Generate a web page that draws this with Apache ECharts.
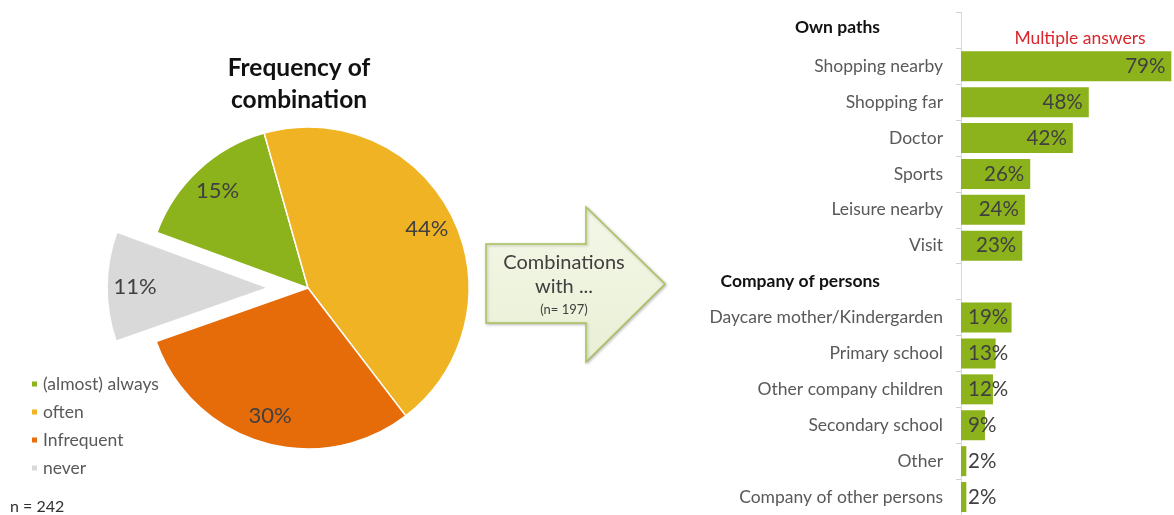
<!DOCTYPE html>
<html>
<head>
<meta charset="utf-8">
<script src="https://cdn.jsdelivr.net/npm/echarts@6/dist/echarts.min.js"></script>
<style>
html,body{margin:0;padding:0;background:#fff;}
#c{width:1174px;height:515px;}
</style>
</head>
<body>
<div id="c"></div>
<script>
// ---- data ----
const pieNames = ['(almost) always', 'often', 'Infrequent', 'never'];
const pieValues = [15, 44, 30, 11];
const pieColors = ['#8CB31B', '#F0B323', '#E66C0A', '#D9D9D9'];

const header1 = 'Own paths';
const ownCats = ['Shopping nearby', 'Shopping far', 'Doctor', 'Sports', 'Leisure nearby', 'Visit'];
const ownVals = [79, 48, 42, 26, 24, 23];
const header2 = 'Company of persons';
const compCats = ['Daycare mother/Kindergarden', 'Primary school', 'Other company children', 'Secondary school', 'Other', 'Company of other persons'];
const compVals = [19, 13, 12, 9, 2, 2];

// ---- build ----
const FONT = 'Lato, "Noto Sans", sans-serif';
const categories = [header1].concat(ownCats, [header2], compCats);
const barVals = [null].concat(ownVals, [null], compVals);
const barData = barVals.map(v => v === null ? null : {
  value: v,
  label: { position: v >= 20 ? 'insideRight' : 'insideLeft', distance: v >= 20 ? 6 : 7 }
});

const pieData = pieNames.map((n, i) => ({
  name: n, value: pieValues[i], selected: n === 'never',
  itemStyle: { color: pieColors[i] }
}));
const pieLabelData = pieNames.map((n, i) => ({
  name: n, value: pieValues[i], selected: n === 'never'
}));

const chart = echarts.init(document.getElementById('c'), null, { renderer: 'canvas' });
const option = {
  backgroundColor: '#ffffff',
  animation: false,
  textStyle: { fontFamily: FONT },
  legend: {
    orient: 'vertical',
    left: 25,
    top: 370,
    icon: 'rect',
    itemWidth: 7,
    itemHeight: 7,
    itemGap: 10,
    data: pieNames,
    selectedMode: false,
    textStyle: { fontFamily: FONT, fontSize: 17.5, color: '#595959', lineHeight: 18 }
  },
  grid: { left: 961, right: 0, top: 12.4, bottom: -7, containLabel: false },
  xAxis: {
    type: 'value', min: 0, max: 80, show: false
  },
  yAxis: {
    type: 'category',
    data: categories,
    inverse: true,
    axisLine: { show: true, lineStyle: { color: '#D9D9D9', width: 1 } },
    axisTick: { show: true, length: 5, lineStyle: { color: '#C9D0DE' } },
    axisLabel: {
      margin: 18,
      fontFamily: FONT,
      fontSize: 17.5,
      color: '#595959',
      formatter: v => v === header1 ? '{h1|' + v + '}' : (v === header2 ? '{h|' + v + '}' : v),
      rich: {
        h: { fontFamily: FONT, fontSize: 17.5, fontWeight: 'bold', color: '#111111', padding: [0, 63, 0, 0] },
        h1: { fontFamily: FONT, fontSize: 17.5, fontWeight: 'bold', color: '#111111', padding: [0, 63, 6, 0] }
      }
    }
  },
  series: [
    {
      type: 'pie',
      center: [308, 288],
      radius: [0, 161],
      startAngle: 159.8,
      clockwise: true,
      selectedMode: 'single',
      selectedOffset: 40,
      silent: true,
      itemStyle: { borderColor: '#ffffff', borderWidth: 1.5 },
      label: { show: false },
      labelLine: { show: false },
      emphasis: { disabled: true },
      data: pieData
    },
    {
      type: 'pie',
      center: [308, 288],
      radius: [99, 161],
      startAngle: 159.8,
      clockwise: true,
      selectedMode: 'single',
      selectedOffset: 40,
      silent: true,
      itemStyle: { color: 'rgba(0,0,0,0)' },
      label: {
        show: true, position: 'inside',
        formatter: '{c}%',
        fontFamily: FONT, fontSize: 22, color: '#404040'
      },
      labelLine: { show: false },
      emphasis: { disabled: true },
      data: pieLabelData
    },
    {
      type: 'bar',
      barWidth: 30,
      silent: true,
      itemStyle: { color: '#8CB31B' },
      label: {
        show: true,
        formatter: '{c}%',
        fontFamily: FONT, fontSize: 20.5, color: '#404040'
      },
      data: barData
    }
  ],
  graphic: [
    {
      type: 'text',
      style: {
        x: 299, y: 52, text: 'Frequency of\ncombination', textAlign: 'center',
        fontFamily: FONT, fontSize: 24.5, fontWeight: 'bold', fill: '#111111', lineHeight: 32
      }
    },
    {
      type: 'polygon',
      shape: { points: [[486, 244], [586, 244], [586, 207], [665, 284], [586, 362], [586, 323], [486, 323]] },
      style: {
        fill: { type: 'linear', x: 0, y: 0, x2: 0, y2: 1, colorStops: [{ offset: 0, color: '#F4F7E8' }, { offset: 1, color: '#E9F0D5' }] },
        stroke: '#A9C25D', lineWidth: 1.5,
        shadowBlur: 3, shadowColor: 'rgba(0,0,0,0.25)', shadowOffsetX: 1, shadowOffsetY: 1
      }
    },
    {
      type: 'text',
      style: { x: 564, y: 263, text: 'Combinations', textAlign: 'center', textVerticalAlign: 'middle', fontFamily: FONT, fontSize: 20, fill: '#404040' }
    },
    {
      type: 'text',
      style: { x: 564, y: 287, text: 'with ...', textAlign: 'center', textVerticalAlign: 'middle', fontFamily: FONT, fontSize: 20, fill: '#404040' }
    },
    {
      type: 'text',
      style: { x: 564, y: 310, text: '(n= 197)', textAlign: 'center', textVerticalAlign: 'middle', fontFamily: FONT, fontSize: 13, fill: '#404040' }
    },
    {
      type: 'text',
      style: { x: 1080, y: 38, text: 'Multiple answers', textAlign: 'center', textVerticalAlign: 'middle', fontFamily: FONT, fontSize: 17.5, fill: '#D9262C' }
    },
    {
      type: 'text',
      style: { x: 10, y: 507, text: 'n = 242', textAlign: 'left', textVerticalAlign: 'middle', fontFamily: FONT, fontSize: 16, fill: '#303030' }
    }
  ]
};
chart.setOption(option);
</script>
</body>
</html>
